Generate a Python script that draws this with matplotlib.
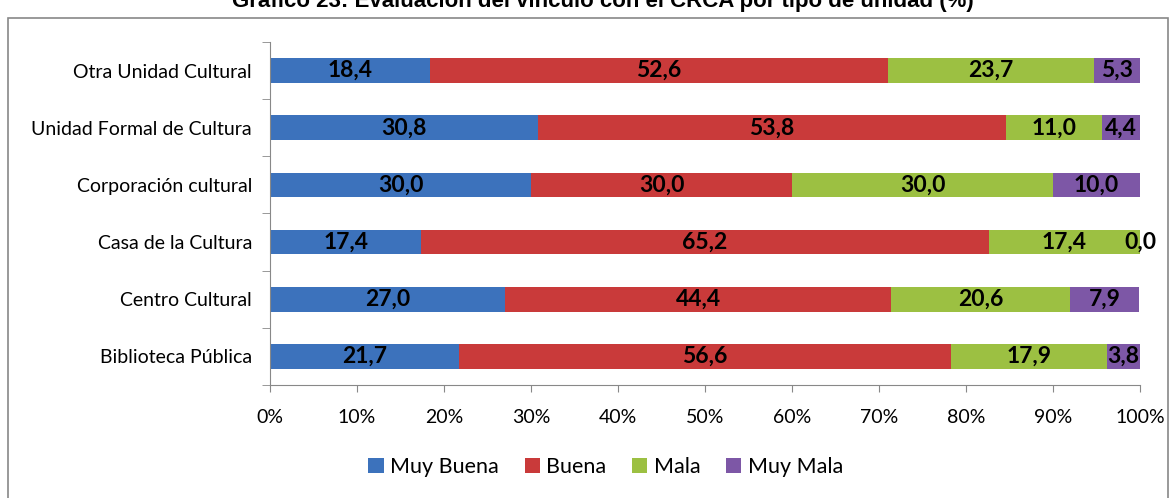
import matplotlib.pyplot as plt
from matplotlib.patches import Rectangle
import numpy as np

plt.rcParams['font.family'] = ['Lato', 'DejaVu Sans']

# data (bottom to top)
unidades = ["Biblioteca Pública", "Centro Cultural", "Casa de la Cultura",
            "Corporación cultural", "Unidad Formal de Cultura", "Otra Unidad Cultural"]
muy_buena = [21.7, 27.0, 17.4, 30.0, 30.8, 18.4]
buena = [56.6, 44.4, 65.2, 30.0, 53.8, 52.6]
mala = [17.9, 20.6, 17.4, 30.0, 11.0, 23.7]
muy_mala = [3.8, 7.9, 0.0, 10.0, 4.4, 5.3]
categorias = ["Muy Buena", "Buena", "Mala", "Muy Mala"]
colores = ["#3C72BC", "#C93A3A", "#9CC042", "#7D57A6"]

fig = plt.figure(figsize=(11.76, 4.98), dpi=100)
# outer frame
fig.patches.append(Rectangle((8 / 1176, -0.01), 1160 / 1176, 0.974,
                             transform=fig.transFigure, fill=False,
                             edgecolor="#888888", linewidth=1.2))
fig.text(0.513, 0.997, "Gráfico 23: Evaluación del vínculo con el CRCA por tipo de unidad (%)",
         ha="center", va="center", fontsize=16, fontweight="bold",
         family=["Liberation Sans", "DejaVu Sans"])

ax = fig.add_axes([0.2296, 0.2269, 0.7398, 0.6888])
y = np.arange(len(unidades))
left = np.zeros(len(unidades))
for vals, nombre, col in zip([muy_buena, buena, mala, muy_mala], categorias, colores):
    vals = np.array(vals)
    ax.barh(y, vals, left=left, height=0.43, color=col, label=nombre)
    for yi, l, v in zip(y, left, vals):
        ax.text(l + v / 2, yi, f"{v:.1f}".replace(".", ","), ha="center", va="center",
                fontsize=16.5, fontweight="bold", color="black")
    left += vals

ax.set_xlim(0, 100)
ax.set_ylim(-0.5, len(unidades) - 0.5)
ax.set_xticks(np.arange(0, 101, 10))
ax.set_xticklabels([f"{v}%" for v in range(0, 101, 10)], fontsize=14)
ax.set_yticks(y)
ax.set_yticklabels(unidades, fontsize=14)
ax.set_yticks(np.arange(-0.5, len(unidades)), minor=True)
ax.tick_params(axis="y", which="major", length=0, pad=13)
ax.tick_params(axis="y", which="minor", length=6, color="#888888")
ax.tick_params(axis="x", length=5, color="#888888", pad=12)
for s in ["top", "right"]:
    ax.spines[s].set_visible(False)
for s in ["left", "bottom"]:
    ax.spines[s].set_color("#888888")

fig.legend(loc="center", bbox_to_anchor=(0.515, 0.062), ncol=4, frameon=False,
           fontsize=15.5, handlelength=0.7, handleheight=0.7, handletextpad=0.3,
           columnspacing=1.2)

fig.savefig("out.png", dpi=100)
